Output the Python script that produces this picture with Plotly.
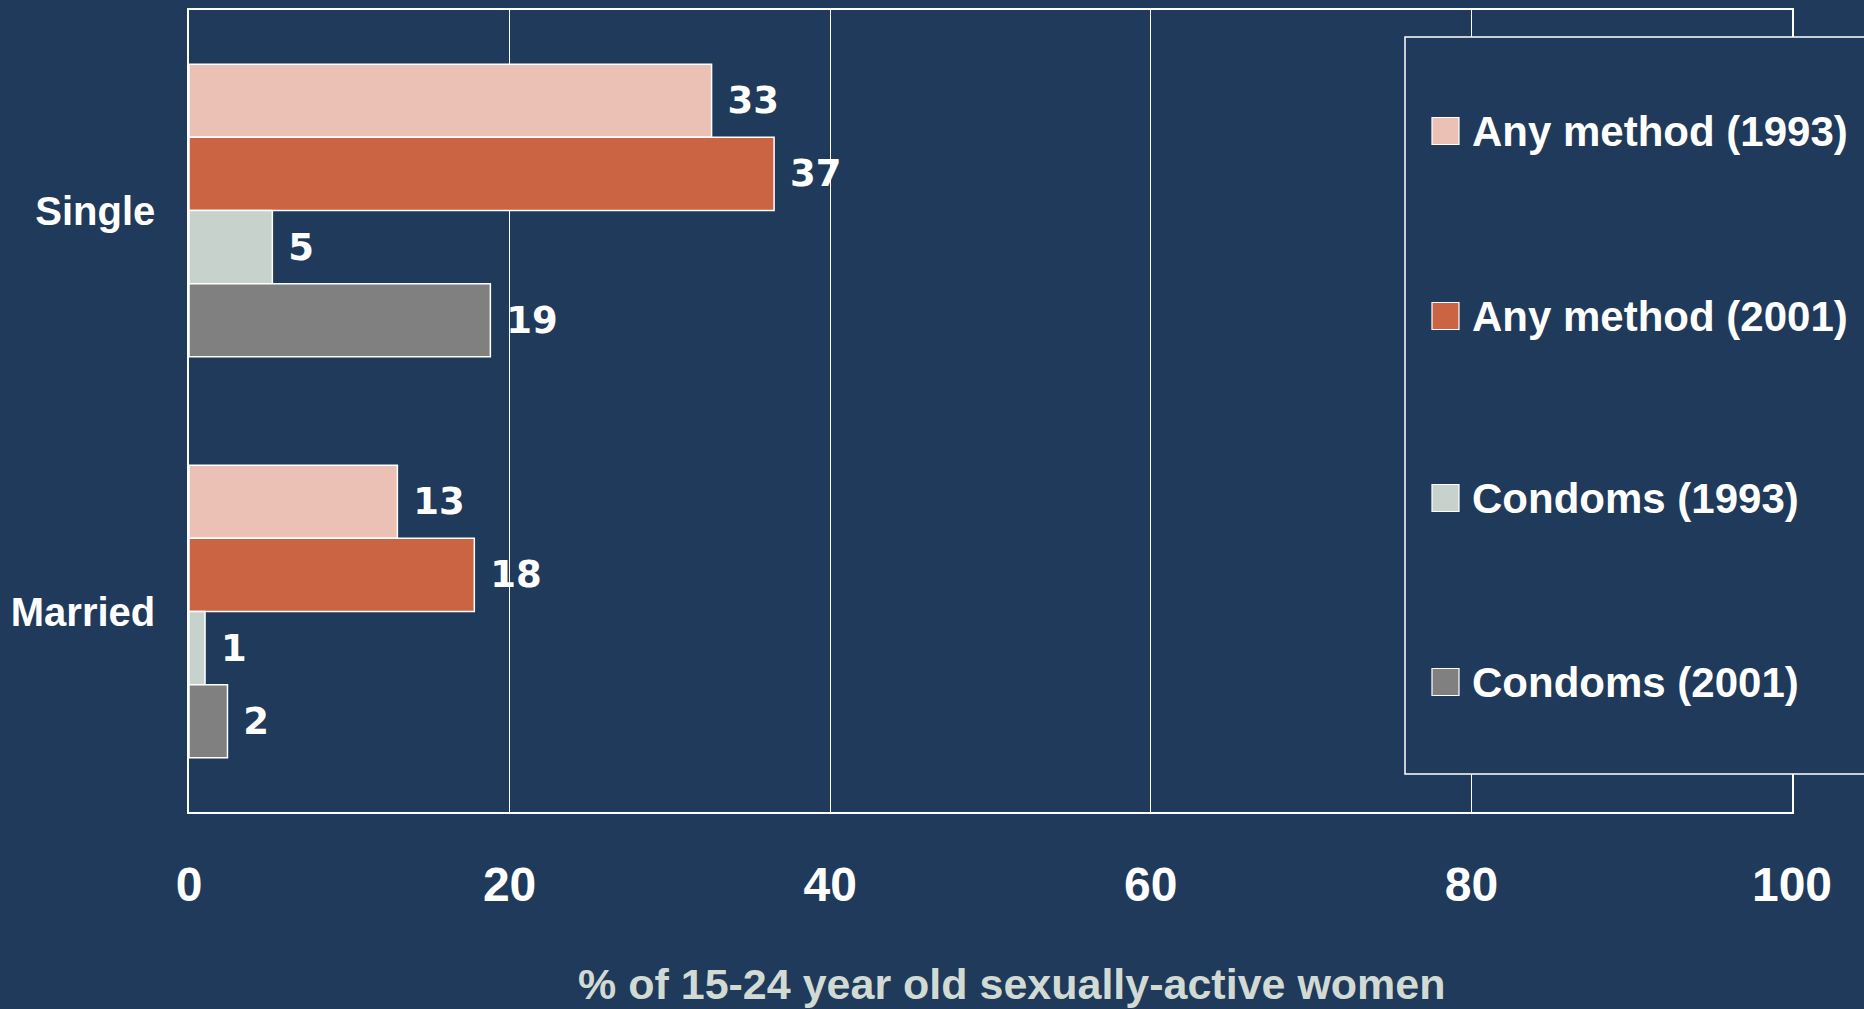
import plotly.graph_objects as go

# ---- data ----
categories = ["Single", "Married"]
series_names = ["Any method (1993)", "Any method (2001)", "Condoms (1993)", "Condoms (2001)"]
any_1993 = [32.6, 13.0]
any_2001 = [36.5, 17.8]
condoms_1993 = [5.2, 1.0]
condoms_2001 = [18.8, 2.4]
labels_any_1993 = ["33", "13"]
labels_any_2001 = ["37", "18"]
labels_condoms_1993 = ["5", "1"]
labels_condoms_2001 = ["19", "2"]
x_ticks = [0, 20, 40, 60, 80, 100]
x_title = "% of 15-24 year old sexually-active women"

series_values = [any_1993, any_2001, condoms_1993, condoms_2001]
series_labels = [labels_any_1993, labels_any_2001, labels_condoms_1993, labels_condoms_2001]
colors = ["#EBC0B5", "#CB6442", "#C8D2CC", "#808080"]

BG = "#1F3A5A"
W, H = 1864, 1009
ML, MR, MT, MB = 189, 72, 10, 197
PW = W - ML - MR
PH = H - MT - MB

fig = go.Figure()
for name, vals, labs, col in zip(series_names, series_values, series_labels, colors):
    fig.add_trace(go.Bar(
        y=categories, x=vals, name=name, orientation="h",
        marker=dict(color=col, line=dict(color="white", width=1.5)),
        text=["\u00a0" + t for t in labs], textposition="outside",
        textfont=dict(family="DejaVu Sans", size=37, color="white", weight="bold"),
        cliponaxis=False, showlegend=False, hoverinfo="skip",
    ))

def px_x(p):
    return (p - ML) / PW

def px_y(p):
    return (H - MB - p) / PH

shapes = []
annotations = []
# legend box (extends off the right edge)
shapes.append(dict(type="rect", xref="paper", yref="paper",
                   x0=px_x(1405), x1=px_x(1405) + 0.4,
                   y0=px_y(774), y1=px_y(37),
                   fillcolor=BG, line=dict(color="white", width=1.5), layer="above"))
legend_y = [131, 316, 498, 682]
for name, col, yc in zip(series_names, colors, legend_y):
    shapes.append(dict(type="rect", xref="paper", yref="paper",
                       xsizemode="pixel", ysizemode="pixel",
                       xanchor=px_x(1445.5), yanchor=px_y(yc),
                       x0=-13.5, x1=13.5, y0=-13.5, y1=13.5,
                       fillcolor=col, line=dict(color="white", width=1.2), layer="above"))
    annotations.append(dict(xref="paper", yref="paper", x=px_x(1470), y=px_y(yc),
                            xanchor="left", yanchor="middle", showarrow=False,
                            text=name,
                            font=dict(family="Liberation Sans", size=42, color="white", weight="bold")))

# x-axis title
annotations.append(dict(xref="paper", yref="paper", x=px_x(1012), y=px_y(984),
                        xanchor="center", yanchor="middle", showarrow=False,
                        text=x_title,
                        font=dict(family="Liberation Sans", size=43, color="#D2DAD4", weight="bold")))

fig.update_layout(
    width=W, height=H,
    margin=dict(l=ML, r=MR, t=MT, b=MB, pad=0),
    paper_bgcolor=BG, plot_bgcolor=BG,
    barmode="group", bargap=0.27, bargroupgap=0,
    showlegend=False,
    shapes=shapes, annotations=annotations,
    xaxis=dict(
        range=[0, 100], tickvals=x_ticks, ticktext=[str(v) for v in x_ticks],
        showgrid=True, gridcolor="white", gridwidth=1.2,
        showline=True, linecolor="white", linewidth=1.5, mirror=True,
        zeroline=False, ticks="", ticklabelstandoff=30, automargin=False,
        tickfont=dict(family="Liberation Sans", size=48, color="white", weight="bold"),
    ),
    yaxis=dict(
        type="category", categoryorder="array", categoryarray=categories,
        range=[1.5, -0.5],
        showgrid=False, showline=True, linecolor="white", linewidth=1.5, mirror=True,
        zeroline=False, ticks="", ticklabelstandoff=24, automargin=False,
        tickfont=dict(family="Liberation Sans", size=40, color="white", weight="bold"),
    ),
    font=dict(family="Liberation Sans", color="white"),
)

fig.write_html("out.html")
